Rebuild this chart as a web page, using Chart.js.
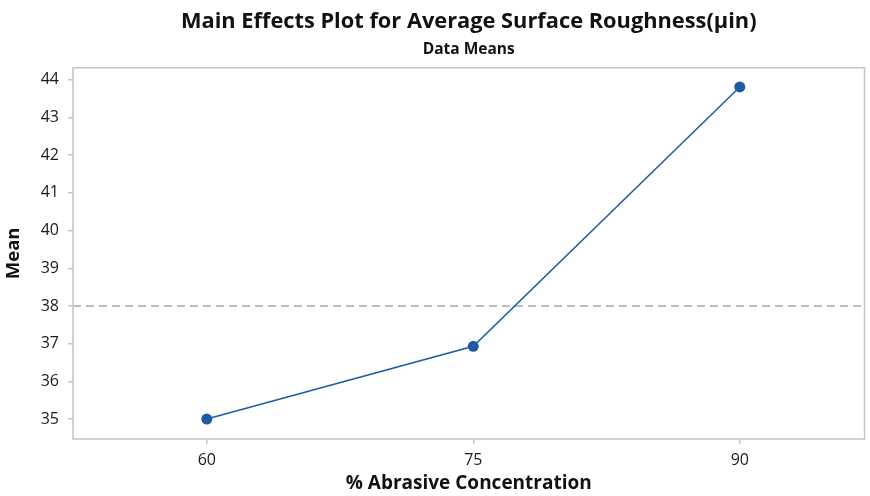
<!DOCTYPE html>
<html>
<head>
<meta charset="utf-8">
<script src="https://cdn.jsdelivr.net/npm/chart.js@4.4.1/dist/chart.umd.min.js"></script>
<style>
  html, body { margin: 0; padding: 0; background: #fff; }
  #wrap { width: 870px; height: 496px; }
</style>
</head>
<body>
<div id="wrap"><canvas id="c"></canvas></div>
<script>
// data
const concentration = [60, 75, 90];
const meanRoughness = [35.0, 36.93, 43.81];
const overallMean = 38.0;
const yTicks = [35, 36, 37, 38, 39, 40, 41, 42, 43, 44];

const FONT = "'Open Sans', 'Noto Sans', sans-serif";
const frameColor = "#c4c4c4";

// grey frame round the plot + dashed mean reference line
const overlay = {
  id: "overlay",
  beforeDatasetsDraw(chart) {
    const { ctx, chartArea: a, scales } = chart;
    const y = scales.y.getPixelForValue(overallMean);
    ctx.save();
    ctx.strokeStyle = "#a9a9a9";
    ctx.lineWidth = 1.5;
    ctx.setLineDash([8, 5]);
    ctx.beginPath();
    ctx.moveTo(a.left, y);
    ctx.lineTo(a.right, y);
    ctx.stroke();
    ctx.restore();
  },
  afterDraw(chart) {
    const { ctx, chartArea: a } = chart;
    ctx.save();
    ctx.strokeStyle = frameColor;
    ctx.lineWidth = 1.5;
    ctx.strokeRect(a.left, a.top, a.right - a.left, a.bottom - a.top);
    ctx.restore();
  }
};

new Chart(document.getElementById("c"), {
  type: "line",
  data: {
    datasets: [{
      data: concentration.map((x, i) => ({ x, y: meanRoughness[i] })),
      borderColor: "#1f5aa6",
      backgroundColor: "#1f5aa6",
      borderWidth: 1.5,
      pointRadius: 5.5,
      pointHoverRadius: 5.5,
      pointBorderWidth: 0,
      tension: 0,
      fill: false
    }]
  },
  options: {
    responsive: true,
    maintainAspectRatio: false,
    animation: false,
    layout: { padding: { top: 0, right: 4, bottom: 0, left: 0 } },
    plugins: {
      legend: { display: false },
      tooltip: { enabled: false },
      title: {
        display: true,
        fullSize: false,
        text: "Main Effects Plot for Average Surface Roughness(µin)",
        color: "#111",
        font: { family: FONT, size: 21.8, weight: "bold" },
        padding: { top: 9, bottom: 5 }
      },
      subtitle: {
        display: true,
        fullSize: false,
        text: "Data Means",
        color: "#111",
        font: { family: FONT, size: 15.5, weight: "bold" },
        padding: { top: 0, bottom: 9 }
      }
    },
    scales: {
      x: {
        type: "linear",
        min: 52.47,
        max: 97.02,
        afterFit(s) { s.height = 57; },
        afterBuildTicks(s) { s.ticks = concentration.map(v => ({ value: v })); },
        grid: { display: true, drawOnChartArea: false, drawTicks: true, tickLength: 5, color: frameColor, lineWidth: 1.5 },
        border: { display: false },
        ticks: { color: "#1a1a1a", padding: 7, font: { family: FONT, size: 16 } },
        title: {
          display: true,
          text: "% Abrasive Concentration",
          color: "#111",
          font: { family: FONT, size: 19, weight: "bold" },
          padding: { top: 0, bottom: 1 }
        }
      },
      y: {
        type: "linear",
        min: 34.47,
        max: 44.32,
        afterFit(s) { s.width = 73; },
        afterBuildTicks(s) { s.ticks = yTicks.map(v => ({ value: v })); },
        grid: { display: true, drawOnChartArea: false, drawTicks: true, tickLength: 5, color: frameColor, lineWidth: 1.5 },
        border: { display: false },
        ticks: { color: "#1a1a1a", padding: 9, font: { family: FONT, size: 16 } },
        title: {
          display: true,
          text: "Mean",
          color: "#111",
          font: { family: FONT, size: 18.5, weight: "bold" },
          padding: { top: 3, bottom: 0 }
        }
      }
    }
  },
  plugins: [overlay]
});
</script>
</body>
</html>
